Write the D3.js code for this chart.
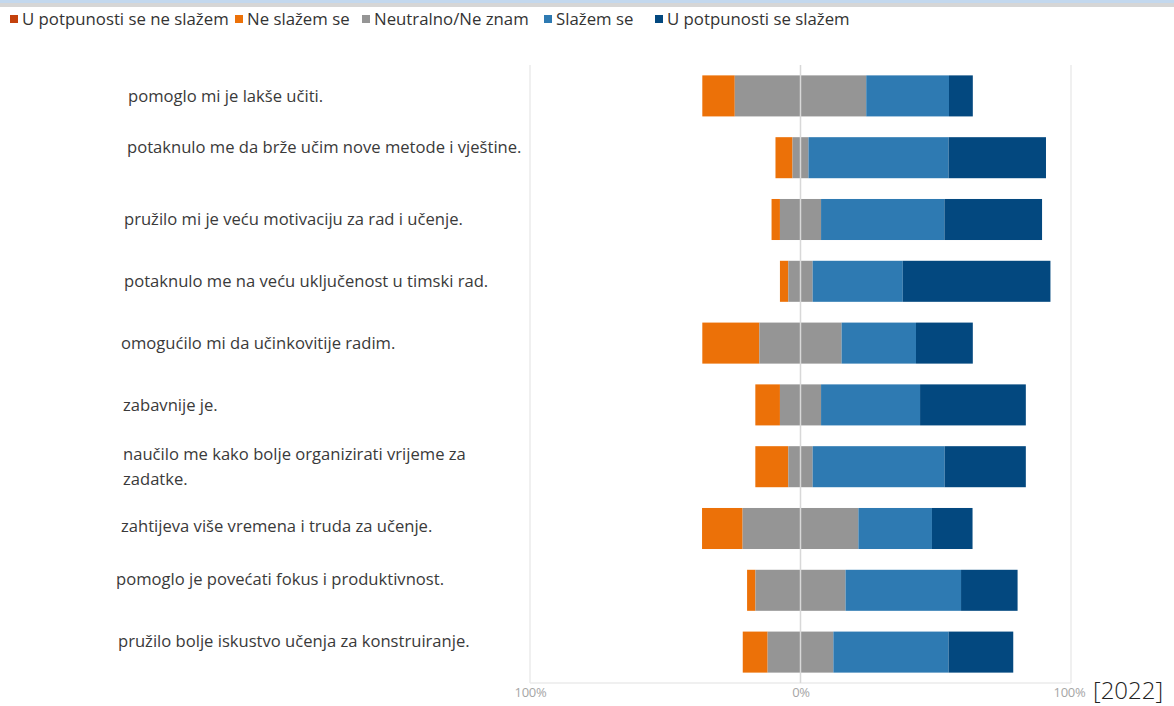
<!DOCTYPE html>
<html>
<head>
<meta charset="utf-8">
<script src="https://cdn.jsdelivr.net/npm/d3@7"></script>
<style>
  html, body { margin: 0; padding: 0; background: #fff; }
  svg { display: block; }
</style>
</head>
<body>
<svg id="chart" width="1174" height="706"></svg>
<script>
// Survey statements (top to bottom)
const statements = [
  "pomoglo mi je lakše učiti.",
  "potaknulo me da brže učim nove metode i vještine.",
  "pružilo mi je veću motivaciju za rad i učenje.",
  "potaknulo me na veću uključenost u timski rad.",
  "omogućilo mi da učinkovitije radim.",
  "zabavnije je.",
  "naučilo me kako bolje organizirati vrijeme za|zadatke.",
  "zahtijeva više vremena i truda za učenje.",
  "pomoglo je povećati fokus i produktivnost.",
  "pružilo bolje iskustvo učenja za konstruiranje."
];

// Answer categories (Likert scale)
const answers = [
  "U potpunosti se ne slažem",
  "Ne slažem se",
  "Neutralno/Ne znam",
  "Slažem se",
  "U potpunosti se slažem"
];

// Share of answers per statement, in %
const stronglyDisagree = [0, 0, 0, 0, 0, 0, 0, 0, 0, 0];
const disagree         = [12.0, 6.3, 3.1, 3.1, 21.1, 9.1, 12.2, 15.0, 3.1, 9.2];
const neutral          = [48.6, 5.9, 15.2, 9.0, 30.4, 15.2, 9.0, 42.8, 33.3, 24.3];
const agree            = [30.6, 51.8, 45.6, 33.3, 27.5, 36.6, 48.8, 27.2, 42.7, 42.6];
const stronglyAgree    = [8.8, 36.0, 36.1, 54.6, 21.0, 39.1, 30.0, 15.0, 20.9, 23.9];

const tickValues = [-100, 0, 100];
const yearNote = "[2022]";

const colors = ["#c4410c", "#ec7108", "#959595", "#2e7ab2", "#03487f"];

// Per-row text placement tweaks for the statement labels
const labelIndent = [128, 127, 124, 124, 121, 123, 123, 121, 116, 118];
const labelNudge  = [0, -11, 0, 0, 0, 0, 0, -2, -11, -11];

const svg = d3.select("#chart");

// Header strips
svg.append("rect").attr("x", 0).attr("y", 0).attr("width", 1174).attr("height", 3).attr("fill", "#c3d8ee");
svg.append("rect").attr("x", 0).attr("y", 3).attr("width", 1174).attr("height", 4).attr("fill", "#d6d6d6");

const x = d3.scaleLinear().domain([-100, 100]).range([530, 1071]);
const y = d3.scaleBand().domain(d3.range(statements.length)).range([65, 683])
  .paddingInner(0.336).paddingOuter(0.168);

const series = [stronglyDisagree, disagree, neutral, agree, stronglyAgree];

// Frame of the plot area
const frame = svg.append("g").attr("stroke", "#ebebeb").attr("stroke-width", 1.5).attr("fill", "none");
frame.append("line").attr("x1", x(-100)).attr("x2", x(-100)).attr("y1", 65).attr("y2", 683);
frame.append("line").attr("x1", x(100)).attr("x2", x(100)).attr("y1", 65).attr("y2", 683);
frame.append("line").attr("x1", x(-100)).attr("x2", x(100)).attr("y1", 683).attr("y2", 683);

// Diverging stacks: neutral share is split around zero
const rows = statements.map((s, i) => {
  const vals = series.map(a => a[i]);
  let start = -(vals[0] + vals[1] + vals[2] / 2);
  return vals.map((v, k) => {
    const seg = { row: i, k, x0: start, x1: start + v };
    start += v;
    return seg;
  });
});

svg.append("g").selectAll("g").data(rows).join("g")
  .selectAll("rect").data(d => d.filter(s => s.x1 - s.x0 > 0)).join("rect")
  .attr("x", d => x(d.x0))
  .attr("y", d => y(d.row))
  .attr("width", d => x(d.x1) - x(d.x0))
  .attr("height", y.bandwidth())
  .attr("fill", d => colors[d.k]);

// Zero line over the bars
svg.append("line")
  .attr("x1", x(0)).attr("x2", x(0)).attr("y1", 65).attr("y2", 683)
  .attr("stroke", "#d8d8d8").attr("stroke-width", 1.5);

// Axis labels
const axis = d3.axisBottom(x).tickValues(tickValues).tickSize(0).tickPadding(5)
  .tickFormat(d => Math.abs(d) + "%");
const ag = svg.append("g").attr("transform", "translate(0,683)").call(axis);
ag.select(".domain").remove();
ag.selectAll("text").attr("fill", "#a6a6a6").attr("font-size", 13)
  .attr("font-family", "'Open Sans', sans-serif").attr("letter-spacing", -0.3);
ag.selectAll(".tick").filter(d => d === 100).select("text").attr("dx", -2);

svg.append("text").attr("x", 1093).attr("y", 699)
  .attr("font-family", "'Open Sans', sans-serif").attr("font-weight", 300)
  .attr("font-size", 24).attr("fill", "#222").text(yearNote);

// Statement labels
const lbl = svg.append("g").attr("font-family", "'Open Sans', sans-serif")
  .attr("font-size", 16.6).attr("fill", "#3a3a3a");
statements.forEach((s, i) => {
  const lines = s.split("|");
  const cy = y(i) + y.bandwidth() / 2 + labelNudge[i];
  const lh = 25;
  lines.forEach((ln, j) => {
    lbl.append("text")
      .attr("x", labelIndent[i])
      .attr("y", cy + (j - (lines.length - 1) / 2) * lh)
      .attr("dy", "0.35em")
      .text(ln);
  });
});

// Legend
const legendX = [10, 235, 362, 544, 655];
const lg = svg.append("g").attr("font-family", "'Open Sans', sans-serif")
  .attr("font-size", 16.8).attr("fill", "#333");
answers.forEach((a, i) => {
  lg.append("rect").attr("x", legendX[i]).attr("y", 15).attr("width", 8).attr("height", 8)
    .attr("fill", colors[i]);
  lg.append("text").attr("x", legendX[i] + 12).attr("y", 19).attr("dy", "0.35em").text(a);
});
</script>
</body>
</html>
